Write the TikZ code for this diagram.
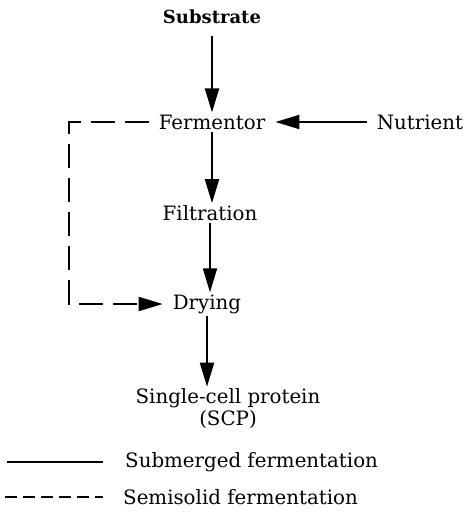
\documentclass[tikz,border=0pt]{standalone}
\usepackage{fontspec}
\setmainfont{DejaVu Serif}
\usetikzlibrary{arrows.meta,positioning}
\tikzset{
  etapa/.style={font=\fontsize{19.8}{22}\selectfont, inner xsep=10pt, inner ysep=2pt},
  fluxo/.style={line width=2pt, -{Triangle[length=24pt,width=14pt]}},
  semi/.style={fluxo, dash pattern=on 24pt off 10pt},
}
\begin{document}
\begin{tikzpicture}[x=1pt,y=-1pt] %Início do desenho, unidades em pixels
	\useasboundingbox (0,0) rectangle (466,515);
		%Etapas
	\node[etapa, font=\fontsize{18}{22}\selectfont\bfseries] (substrato) at (212,17) {Substrate};
	\node[etapa] (fermentador) at (212,122) {Fermentor};
	\node[etapa] (nutriente) at (420,122) {Nutrient};
	\node[etapa] (filtracao) at (210,213) {Filtration};
	\node[etapa] (secagem) at (207,304) {Drying};
	\node[etapa, align=center] (scp) at (228,409) {Single-cell protein\\(SCP)};
		%Setas
	\draw[fluxo, shorten <=10pt] (substrato) -- (fermentador);
	\draw[fluxo] (nutriente) -- (fermentador);
	\draw[fluxo] (fermentador) -- (fermentador |- filtracao.north);
	\draw[fluxo] (filtracao) -- (filtracao |- secagem.north);
	\draw[fluxo] (secagem) -- (secagem |- scp.north);
		%Fermentação semissólida
	\coordinate (canto) at (69,122);
	\draw[semi] (fermentador.west) -- (canto) -- (canto |- secagem) -- (secagem.west);
		%Legenda
	\node[etapa, anchor=west, inner xsep=0pt] (submersa) at (125,462) {Submerged fermentation};
	\node[etapa, anchor=west, inner xsep=0pt] (semissolida) at (123,497) {Semisolid fermentation};
	\coordinate (l1) at (7,462);
	\coordinate (l2) at (5,497);
	\draw[line width=1.5pt] (l1) -- (l1 -| 103,0);
	\draw[line width=1.5pt, dash pattern=on 12pt off 6pt] (l2) -- (l2 -| 103,0);
\end{tikzpicture}
\end{document}
